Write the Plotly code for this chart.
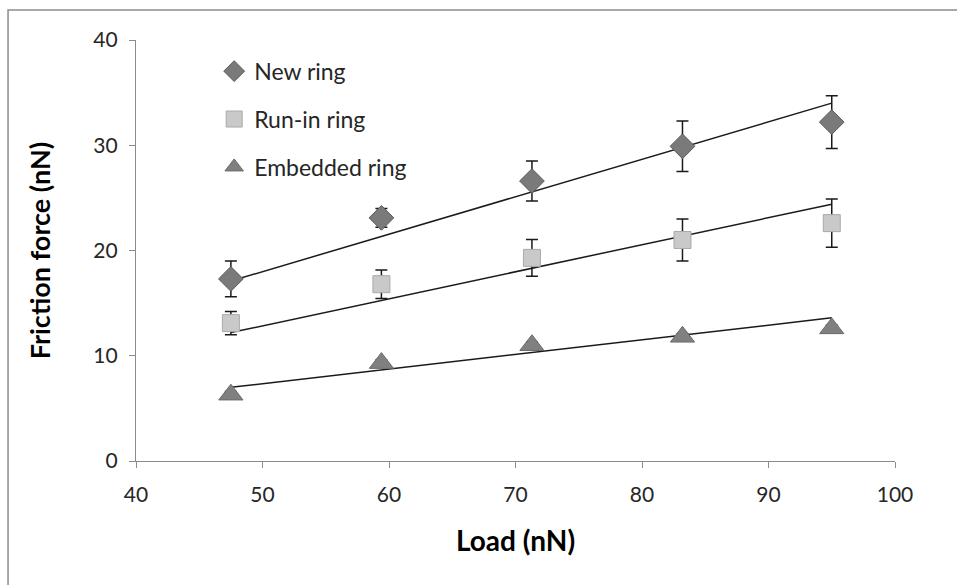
import plotly.graph_objects as go

# ---- data ----
load = [47.5, 59.4, 71.3, 83.2, 95.0]
new_ring = [17.3, 23.1, 26.6, 29.9, 32.2]
new_err = [1.7, 0.9, 1.9, 2.4, 2.5]
runin_ring = [13.1, 16.8, 19.3, 21.0, 22.6]
runin_err = [1.1, 1.35, 1.75, 2.0, 2.3]
embedded_ring = [6.3, 9.3, 11.0, 11.8, 12.6]
embedded_err = [0.3, 0.3, 0.3, 0.3, 0.3]

trend_x = [47.5, 95.0]
new_trend = [17.1, 34.0]
runin_trend = [12.2, 24.4]
embedded_trend = [7.0, 13.6]

x_ticks = [40, 50, 60, 70, 80, 90, 100]
y_ticks = [0, 10, 20, 30, 40]

FONT = "Lato"

fig = go.Figure()

# trend lines
for ty in (new_trend, runin_trend, embedded_trend):
    fig.add_trace(go.Scatter(x=trend_x, y=ty, mode="lines",
                             line=dict(color="#1a1a1a", width=1.5),
                             showlegend=False, hoverinfo="skip"))

series = [
    ("New ring", new_ring, new_err, "diamond", 19, "#7a7a7a", "#5a5a5a"),
    ("Run-in ring", runin_ring, runin_err, "square", 17, "#c9c9c9", "#a9a9a9"),
    ("Embedded ring", embedded_ring, embedded_err, "triangle-up", 21, "#808080", "#6a6a6a"),
]
for i, (name, ys, err, sym, size, fill, edge) in enumerate(series):
    fig.add_trace(go.Scatter(
        x=load, y=ys, mode="markers", name=name,
        legendgroup=name,
        marker=dict(symbol=sym, size=size, color=fill,
                    line=dict(color=edge, width=1)),
        error_y=dict(type="data", array=err, visible=True,
                     color="#1a1a1a", thickness=1.5, width=6),
    ))

# outer chart border
fig.add_shape(type="rect", xref="paper", yref="paper",
              x0=-0.1686, y0=-0.4, x1=1.2, y1=1.0713,
              line=dict(color="#8c8c8c", width=1.5), fillcolor="rgba(0,0,0,0)",
              layer="below")

fig.update_layout(
    width=957, height=585,
    paper_bgcolor="white", plot_bgcolor="white",
    margin=dict(l=136, r=62, t=40, b=124),
    font=dict(family=FONT, color="#262626", size=21),
    legend=dict(x=0.103, y=0.977, xanchor="left", yanchor="top",
                bgcolor="rgba(0,0,0,0)", tracegroupgap=15,
                font=dict(size=23, family=FONT, color="#262626"),
                itemwidth=30),
    xaxis=dict(range=[40, 100], tickvals=x_ticks, showgrid=False, zeroline=False,
               showline=True, linecolor="#8c8c8c", linewidth=1.2,
               ticks="outside", ticklen=6, tickcolor="#8c8c8c",
               ticklabelstandoff=9,
               tickfont=dict(size=21, family=FONT, color="#262626"),
               title=dict(text="<b>Load (nN)</b>", font=dict(size=28, family=FONT, color="#000"),
                          standoff=26)),
    yaxis=dict(range=[0, 40], tickvals=y_ticks, showgrid=False, zeroline=False,
               showline=True, linecolor="#8c8c8c", linewidth=1.2,
               ticks="outside", ticklen=6, tickcolor="#8c8c8c",
               ticklabelstandoff=7,
               tickfont=dict(size=21, family=FONT, color="#262626"),
               title=dict(text="<b>Friction force (nN)</b>", font=dict(size=27, family=FONT, color="#000"),
                          standoff=34)),
)

fig.write_html("out.html",
               config={"displayModeBar": False},
               post_script="document.body.style.margin='0';document.body.style.overflow='hidden';")
